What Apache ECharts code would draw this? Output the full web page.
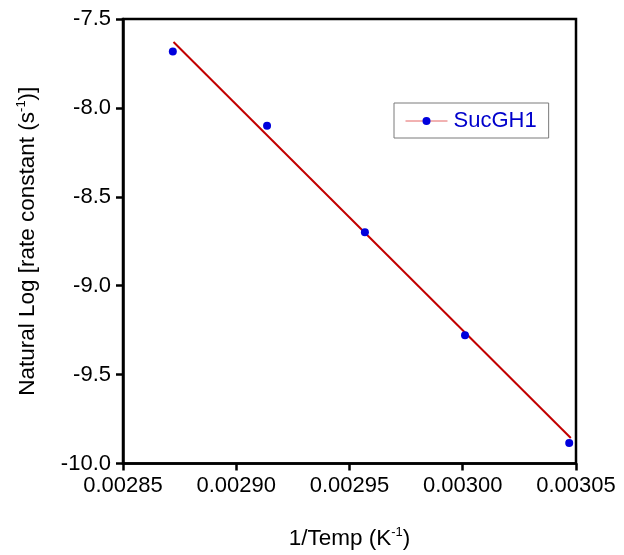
<!DOCTYPE html>
<html>
<head>
<meta charset="utf-8">
<script src="https://cdn.jsdelivr.net/npm/echarts@6/dist/echarts.min.js"></script>
<style>
html,body{margin:0;padding:0;background:#fff;}
#main{width:624px;height:555px;}
</style>
</head>
<body>
<div id="main"></div>
<script>
// Data
var invTemp = [0.002872, 0.0029136, 0.0029568, 0.003001, 0.003047];
var lnRate = [-7.683, -8.100, -8.700, -9.278, -9.885];
var fitX = [0.0028723, 0.0030477];
var fitY = [-7.629, -9.857];
var xTicks = [0.00285, 0.00290, 0.00295, 0.00300, 0.00305];
var yTicks = [-7.5, -8.0, -8.5, -9.0, -9.5, -10.0];
var seriesName = 'SucGH1';

var font = 'Arial, "Liberation Sans", Helvetica, sans-serif';
var chart = echarts.init(document.getElementById('main'), null, {renderer: 'canvas'});

var pts = invTemp.map(function (x, i) { return [x, lnRate[i]]; });
var fit = fitX.map(function (x, i) { return [x, fitY[i]]; });

chart.setOption({
  backgroundColor: '#fff',
  animation: false,
  grid: {
    left: 123, right: 48, top: 19, bottom: 86,
    show: true, borderColor: '#000', borderWidth: 2.5, backgroundColor: 'transparent'
  },
  legend: {
    show: true,
    data: [{name: seriesName}],
    left: 394, top: 103,
    orient: 'vertical',
    backgroundColor: '#fff',
    borderColor: '#7a7a7a', borderWidth: 1, borderRadius: 0,
    padding: [7, 12, 6, 11],
    itemWidth: 42, itemHeight: 10, itemGap: 0,
    lineStyle: {color: '#e46464', width: 1, opacity: 1},
    itemStyle: {color: '#0000dd'},
    textStyle: {color: '#0000cc', fontSize: 22, fontFamily: font, padding: [0, 0, 0, 1]}
  },
  xAxis: {
    type: 'value',
    min: 0.00285, max: 0.00305, interval: 0.00005,
    name: '{n|1/Temp (K}{s|-1}{n|)}',
    nameLocation: 'middle', nameGap: 62,
    nameTextStyle: {
      rich: {
        n: {fontSize: 22.5, fontFamily: font, color: '#000'},
        s: {fontSize: 13, fontFamily: font, color: '#000', verticalAlign: 'bottom', padding: [0, 0, 13, 0]}
      }
    },
    axisLine: {show: true, onZero: false, lineStyle: {color: '#000', width: 2.5}},
    axisTick: {show: true, inside: false, length: 7, lineStyle: {color: '#000', width: 2.5}},
    axisLabel: {
      show: true, margin: 11, color: '#000', fontSize: 22, fontFamily: font,
      formatter: function (v) {
        for (var i = 0; i < xTicks.length; i++) {
          if (Math.abs(v - xTicks[i]) < 1e-9) return xTicks[i].toFixed(5);
        }
        return '';
      }
    },
    splitLine: {show: false}
  },
  yAxis: {
    type: 'value',
    min: -10, max: -7.5, interval: 0.5,
    name: '{n|Natural Log [rate constant (s}{s|-1}{n|)]}',
    nameLocation: 'middle', nameGap: 82, nameRotate: 90,
    nameTextStyle: {
      rich: {
        n: {fontSize: 22.5, fontFamily: font, color: '#000'},
        s: {fontSize: 13, fontFamily: font, color: '#000', verticalAlign: 'bottom', padding: [0, 0, 13, 0]}
      }
    },
    axisLine: {show: true, onZero: false, lineStyle: {color: '#000', width: 2.5}},
    axisTick: {show: true, inside: false, length: 7, lineStyle: {color: '#000', width: 2.5}},
    axisLabel: {
      show: true, margin: 12, color: '#000', fontSize: 22, fontFamily: font,
      formatter: function (v) {
        for (var i = 0; i < yTicks.length; i++) {
          if (Math.abs(v - yTicks[i]) < 1e-9) return yTicks[i].toFixed(1);
        }
        return '';
      }
    },
    splitLine: {show: false}
  },
  series: [
    {
      name: 'fit',
      type: 'line',
      data: fit,
      showSymbol: false,
      symbol: 'none',
      lineStyle: {color: '#c20000', width: 2},
      z: 2
    },
    {
      name: seriesName,
      type: 'line',
      data: pts,
      symbol: 'circle',
      symbolSize: 8,
      showSymbol: true,
      itemStyle: {color: '#0000dd'},
      lineStyle: {opacity: 0, width: 0},
      z: 3
    }
  ]
});
</script>
</body>
</html>
